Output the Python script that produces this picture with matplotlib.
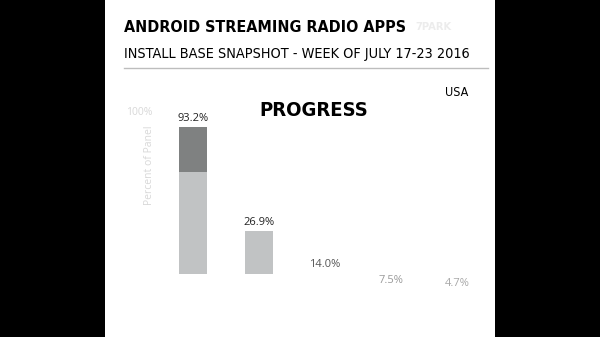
import matplotlib.pyplot as plt
from matplotlib.patches import Rectangle
from matplotlib.lines import Line2D

# install base, percent of panel
apps = ["A", "B", "C", "D", "E"]
totals = [93.2, 26.9, 14.0, 7.5, 4.7]
base_part = [64.3, 26.9]
top_part = [28.9, 0.0]
labels = ["93.2%", "26.9%", "14.0%", "7.5%", "4.7%"]

NARROW = dict(family="DejaVu Sans", stretch="condensed")
LIGHT = "#c1c3c4"
DARK = "#7f8181"

fig = plt.figure(figsize=(6, 3.37), dpi=100)
fig.patch.set_facecolor("black")
fig.patches.append(Rectangle((105 / 600, 0), 390 / 600, 1, transform=fig.transFigure,
                             facecolor="white", edgecolor="none", zorder=-10))

# header
fig.text(124 / 600, 1 - 28 / 337, "ANDROID STREAMING RADIO APPS", **NARROW,
         weight="bold", fontsize=11.5, va="center", ha="left")
fig.text(124 / 600, 1 - 54 / 337, "INSTALL BASE SNAPSHOT - WEEK OF JULY 17-23 2016",
         **NARROW, fontsize=10.4, va="center", ha="left")
fig.text(433 / 600, 1 - 27 / 337, "7PARK", **NARROW, fontsize=8, color="#ececec",
         va="center", ha="center", weight="bold")
fig.lines.append(Line2D([124 / 600, 488 / 600], [1 - 68 / 337, 1 - 68 / 337],
                        transform=fig.transFigure, color="#bdbdbd", lw=1))
fig.text(314 / 600, 1 - 111 / 337, "PROGRESS", **NARROW, weight="bold", fontsize=14.5,
         va="center", ha="center")
fig.text(457 / 600, 1 - 93 / 337, "USA", **NARROW, fontsize=9, va="center", ha="center")

ax = fig.add_axes([160 / 600, 63 / 337, 330 / 600, 158 / 337])
ax.set_xlim(-0.5, len(apps) - 0.5)
ax.set_ylim(0, 100)
ax.axis("off")

x = list(range(len(base_part)))
ax.bar(x, base_part, width=0.41, color=LIGHT, zorder=2)
ax.bar(x, top_part, bottom=base_part, width=0.41, color=DARK, zorder=2)

for i in range(len(base_part)):
    ax.text(i, totals[i] + 2, labels[i], ha="center", va="bottom", fontsize=8,
            family="Open Sans", color="#222222")

# remaining labels are still fading in
fades = ["#555555", "#9a9a9a", "#a8a8a8"]
offsets = [5.7, -3.8, -5.7]
for i, (c, off) in enumerate(zip(fades, offsets), start=len(base_part)):
    ax.text(i, off, labels[i], ha="center", va="center", fontsize=8,
            family="Open Sans", color=c, clip_on=False)

fig.text(152 / 600, 1 - 113 / 337, "100%", fontsize=7.5, family="Open Sans",
         color="#d8d8d8", ha="right", va="center")
fig.text(149 / 600, 1 - 165 / 337, "Percent of Panel", fontsize=7.5, family="Open Sans",
         color="#d8d8d8", rotation=90, ha="center", va="center")

fig.savefig("out.png", dpi=100, facecolor=fig.get_facecolor())
